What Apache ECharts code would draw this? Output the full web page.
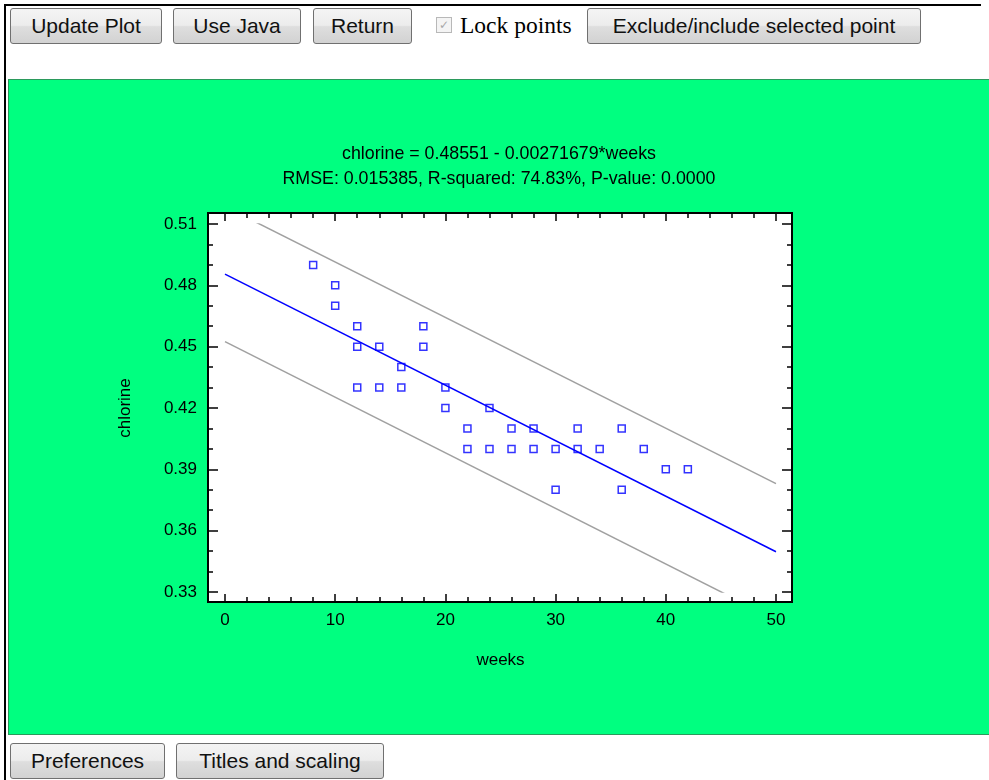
<!DOCTYPE html>
<html>
<head>
<meta charset="utf-8">
<script src="https://cdn.jsdelivr.net/npm/echarts@6/dist/echarts.min.js"></script>
<style>
  html, body { margin: 0; padding: 0; background: #fff; width: 989px; height: 780px; overflow: hidden; }
  .rule { position: absolute; background: #000; }
  .btn {
    position: absolute; height: 36px; box-sizing: border-box;
    border: 1px solid #707070; border-radius: 3px;
    background: linear-gradient(#f4f4f4, #ececec 48%, #dedede 52%, #d2d2d2);
    font: 21px "Liberation Sans", Arial, sans-serif; color: #111;
    display: flex; align-items: center; justify-content: center;
  }
  .check {
    position: absolute; left: 436px; top: 17px; width: 14px; height: 14px;
    border: 1px solid #b8b8b8; background: #f4f4f4;
    font: 12px "DejaVu Sans", sans-serif; color: #a8a8a8;
    display: flex; align-items: center; justify-content: center;
  }
  .lock { position: absolute; left: 460px; top: 12px; font: 23.5px "Liberation Serif", "Times New Roman", serif; color: #000; }
  #chart {
    position: absolute; left: 8px; top: 79px; width: 981px; height: 656px;
    box-sizing: border-box; border: 1px solid #2b9a5c; border-right: none;
  }
</style>
</head>
<body>
<div class="rule" style="left:4px;top:4px;width:977px;height:2px"></div>
<div class="rule" style="left:4px;top:4px;width:2px;height:776px"></div>

<div class="btn" style="left:10px;top:8px;width:152px">Update Plot</div>
<div class="btn" style="left:173px;top:8px;width:128px">Use Java</div>
<div class="btn" style="left:313px;top:8px;width:99px">Return</div>
<div class="check">&#10003;</div>
<div class="lock">Lock points</div>
<div class="btn" style="left:587px;top:8px;width:334px">Exclude/include selected point</div>

<div id="chart"></div>

<div class="btn" style="left:10px;top:743px;width:155px">Preferences</div>
<div class="btn" style="left:176px;top:743px;width:208px">Titles and scaling</div>

<script>
// observed points
var weeks = [8, 10, 10, 12, 12, 12, 14, 14, 16, 16, 18, 18, 20, 20, 22, 22,
  24, 24, 26, 26, 28, 28, 30, 30, 32, 32, 34, 36, 36, 38, 40, 42];
var chlorine = [0.49, 0.48, 0.47, 0.46, 0.45, 0.43, 0.45, 0.43, 0.44, 0.43, 0.46, 0.45, 0.43, 0.42, 0.41, 0.40,
  0.42, 0.40, 0.41, 0.40, 0.41, 0.40, 0.40, 0.38, 0.41, 0.40, 0.40, 0.41, 0.38, 0.40, 0.39, 0.39];

// fitted line and prediction limits (end points)
var lineX = [0, 50];
var fitY = [0.4855, 0.3497];
var upperY = [0.5185, 0.3830];
var lowerY = [0.4525, 0.3165];

var titleLines = [
  "chlorine = 0.48551 - 0.00271679*weeks",
  "RMSE: 0.015385, R-squared: 74.83%, P-value: 0.0000"
];

function pairs(xs, ys) {
  return xs.map(function (x, i) { return [x, ys[i]]; });
}

var font = '"Liberation Sans", Arial, sans-serif';
var chart = echarts.init(document.getElementById("chart"));

function xAxisCfg(pos, offset, labels) {
  return {
    type: "value", position: pos, offset: offset,
    min: 0, max: 50, interval: 10,
    axisLine: { show: false, onZero: false },
    axisTick: { show: true, inside: true, length: 8, lineStyle: { color: "#000", width: 1.5 } },
    minorTick: { show: true, splitNumber: 5, length: 5, lineStyle: { color: "#000", width: 1.5 } },
    splitLine: { show: false },
    axisLabel: { show: labels, margin: 10, color: "#000", fontSize: 17, fontFamily: font }
  };
}

function yAxisCfg(pos, offset, labels) {
  return {
    type: "value", position: pos, offset: offset,
    min: 0.33, max: 0.51, interval: 0.03,
    axisLine: { show: false, onZero: false },
    axisTick: { show: true, inside: true, length: 10, lineStyle: { color: "#000", width: 1.5 } },
    minorTick: { show: true, splitNumber: 3, length: 5, lineStyle: { color: "#000", width: 1.5 } },
    splitLine: { show: false },
    axisLabel: {
      show: labels, margin: 11, color: "#000", fontSize: 17, fontFamily: font,
      formatter: function (v) { return v.toFixed(2); }
    }
  };
}

var xBottom = xAxisCfg("bottom", 10, true);
xBottom.name = "weeks";
xBottom.nameLocation = "middle";
xBottom.nameGap = 50;
xBottom.nameTextStyle = { color: "#000", fontSize: 17, fontFamily: font };

var yLeft = yAxisCfg("left", 17, true);
yLeft.name = "chlorine";
yLeft.nameLocation = "middle";
yLeft.nameGap = 74;
yLeft.nameTextStyle = { color: "#000", fontSize: 17, fontFamily: font };

chart.setOption({
  animation: false,
  backgroundColor: "#00ff80",
  title: {
    text: titleLines.join("\n"),
    left: "center",
    top: 57,
    textStyle: { color: "#000", fontSize: 17.8, fontWeight: "normal", fontFamily: font, lineHeight: 25 }
  },
  grid: { left: 216, top: 144, width: 551, height: 368 },
  graphic: [{
    type: "rect", z: -10,
    shape: { x: 199, y: 133, width: 584, height: 389 },
    style: { fill: "#fff", stroke: "#000", lineWidth: 2 }
  }],
  xAxis: [xBottom, xAxisCfg("top", 11, false)],
  yAxis: [yLeft, yAxisCfg("right", 16, false)],
  series: [
    {
      type: "line", data: pairs(lineX, upperY), showSymbol: false, symbol: "none",
      lineStyle: { color: "#a0a0a0", width: 1.5 }, silent: true
    },
    {
      type: "line", data: pairs(lineX, lowerY), showSymbol: false, symbol: "none",
      lineStyle: { color: "#a0a0a0", width: 1.5 }, silent: true
    },
    {
      type: "line", data: pairs(lineX, fitY), showSymbol: false, symbol: "none",
      lineStyle: { color: "#0000ff", width: 1.5 }, silent: true
    },
    {
      type: "scatter", data: pairs(weeks, chlorine),
      symbol: "rect", symbolSize: 7,
      itemStyle: { color: "rgba(0,0,0,0)", borderColor: "#0000ff", borderWidth: 1.5 }
    }
  ]
});
</script>
</body>
</html>
